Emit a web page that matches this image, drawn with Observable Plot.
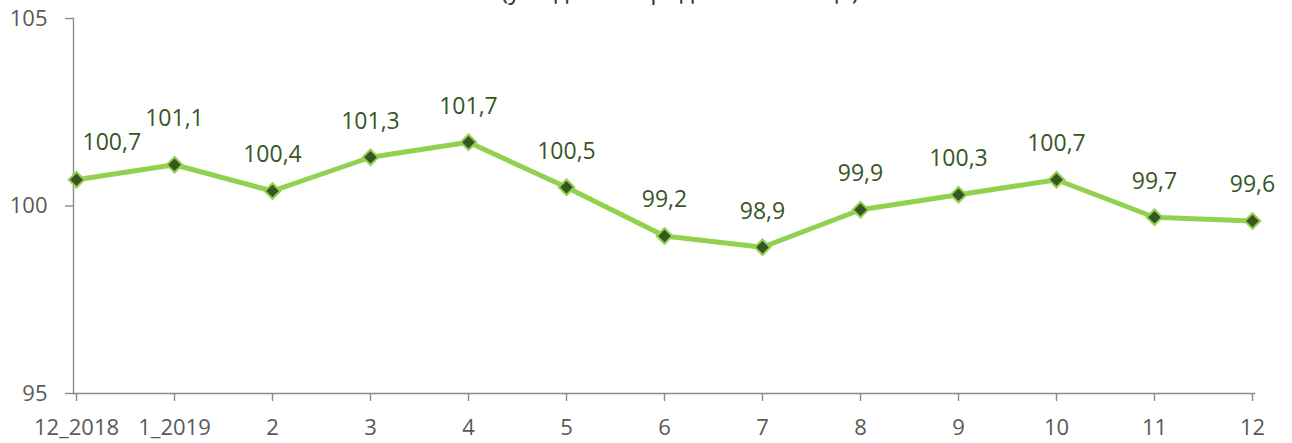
<!DOCTYPE html>
<html>
<head>
<meta charset="utf-8">
<script src="https://cdn.jsdelivr.net/npm/d3@7"></script>
<script src="https://cdn.jsdelivr.net/npm/@observablehq/plot@0.6"></script>
<style>
  html, body { margin: 0; padding: 0; background: #fff; }
  #wrap { position: relative; width: 1292px; height: 443px; overflow: hidden; background: #fff; }
  #title { position: absolute; left: 680px; top: -23px; transform: translateX(-50%); white-space: nowrap;
           font-family: "Open Sans", sans-serif; font-size: 25px; line-height: 25px; color: #2E3B1F; z-index: 2; }
  #chart { position: absolute; left: 0; top: 0; }
</style>
</head>
<body>
<div id="wrap">
  <div id="title">(у % до попереднього місяця)</div>
  <div id="chart"></div>
</div>
<script>
const months = ["12_2018", "1_2019", "2", "3", "4", "5", "6", "7", "8", "9", "10", "11", "12"];
const values = [100.7, 101.1, 100.4, 101.3, 101.7, 100.5, 99.2, 98.9, 99.9, 100.3, 100.7, 99.7, 99.6];
const yTicks = [95, 100, 105];

const data = months.map((m, i) => ({m, v: values[i], i, label: String(values[i]).replace(".", ",")}));

const labelStyle = {x: "m", y: "v", text: "label", fill: "#375623", fontSize: 23, lineAnchor: "middle"};

const chart = Plot.plot({
  width: 1292,
  height: 443,
  marginLeft: 73,
  marginRight: 38,
  marginTop: 18,
  marginBottom: 50,
  style: {fontFamily: "'Open Sans', sans-serif", fontSize: "22px", background: "white", overflow: "visible"},
  x: {type: "point", domain: months, padding: 0, label: null},
  y: {domain: [95, 105], label: null},
  marks: [
    Plot.frame({anchor: "left", stroke: "#8c8c8c", strokeWidth: 1.4}),
    Plot.frame({anchor: "bottom", stroke: "#8c8c8c", strokeWidth: 1.4}),
    Plot.axisY({ticks: yTicks, tickSize: 8, tickPadding: 18, stroke: "#8c8c8c", strokeWidth: 1.4, fill: "#595959", fontSize: 22, label: null}),
    Plot.axisX({tickSize: 8, tickPadding: 18, stroke: "#8c8c8c", strokeWidth: 1.4, fill: "#595959", fontSize: 22, label: null}),
    Plot.line(data, {x: "m", y: "v", stroke: "#92D050", strokeWidth: 5}),
    Plot.dot(data, {x: "m", y: "v", symbol: "square", r: 6.2, rotate: 45, fill: "#375623", stroke: "#92D050", strokeWidth: 2}),
    Plot.text(data.filter(d => d.i === 0), {...labelStyle, textAnchor: "start", dx: 6, dy: -37}),
    Plot.text(data.filter(d => d.i === 1), {...labelStyle, dy: -46}),
    Plot.text(data.filter(d => d.i > 1), {...labelStyle, dy: -36})
  ]
});
document.getElementById("chart").appendChild(chart);
</script>
</body>
</html>
